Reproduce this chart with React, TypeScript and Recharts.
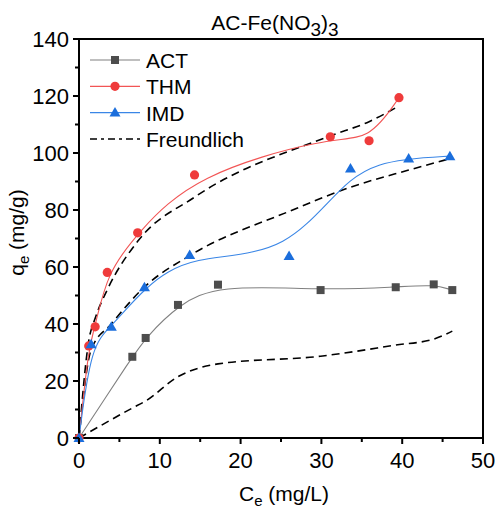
import React from 'react';
import { LineChart, Line, XAxis, YAxis, ReferenceArea, Legend, Label } from 'recharts';

// measured data (Ce in mg/L, qe in mg/g)
const actC = [0, 6.6, 8.25, 12.25, 17.2, 29.9, 39.2, 43.9, 46.2];
const actQ = [0, 28.5, 35.1, 46.7, 53.8, 51.9, 52.9, 53.9, 51.9];
const thmC = [0, 1.2, 2.0, 3.5, 7.26, 14.3, 31.1, 35.9, 39.6];
const thmQ = [0, 32.3, 39, 58.1, 72, 92.3, 105.7, 104.3, 119.4];
const imdC = [0, 1.5, 4.0, 8.1, 13.7, 26.0, 33.6, 40.8, 45.9];
const imdQ = [0, 32.9, 39, 52.9, 64.2, 63.9, 94.6, 98.1, 98.9];

// Freundlich fits at the same Ce values
const actFit = [0, 10.5, 13, 21.5, 26, 28.7, 32.6, 34.7, 37.5];
const thmFit = [0, 34, 42, 52, 69, 84.5, 106, 111, 116.5];
const imdFit = [0, 31, 40, 53, 64, 79.5, 88, 94, 98];

const xTicks = [0, 5, 10, 15, 20, 25, 30, 35, 40, 45, 50];
const yTicks = [0, 10, 20, 30, 40, 50, 60, 70, 80, 90, 100, 110, 120, 130, 140];

const zip = (c: number[], q: number[]) => c.map((v, i) => ({ c: v, q: q[i] }));
const actData = zip(actC, actQ);
const thmData = zip(thmC, thmQ);
const imdData = zip(imdC, imdQ);
const actFitData = zip(actC, actFit);
const thmFitData = zip(thmC, thmFit);
const imdFitData = zip(imdC, imdFit);

const FONT = 'Arial, "Liberation Sans", sans-serif';
const ACT_LINE = '#808080', ACT_DOT = '#4d4d4d';
const THM_LINE = '#f25555', THM_DOT = '#ef3b3b';
const IMD_LINE = '#3a86e6', IMD_DOT = '#1b6edc';

const Square = ({ cx, cy, fill }: any) => <rect x={cx - 4} y={cy - 4} width={8} height={8} fill={fill} />;
const Circle = ({ cx, cy, fill }: any) => <circle cx={cx} cy={cy} r={4.6} fill={fill} />;
const Tri = ({ cx, cy, fill }: any) => (
  <polygon points={`${cx},${cy - 5.5} ${cx + 5.5},${cy + 4} ${cx - 5.5},${cy + 4}`} fill={fill} />
);

const XTick = (props: any) => {
  const { x, y, payload } = props;
  const major = payload.value % 10 === 0;
  return (
    <g>
      <line x1={x} y1={y} x2={x} y2={y + (major ? 6 : 4)} stroke="#000" strokeWidth={2} />
      {major && (
        <text x={x} y={y + 30} textAnchor="middle" fontSize={22} fontFamily={FONT} fill="#000">
          {payload.value}
        </text>
      )}
    </g>
  );
};

const YTick = (props: any) => {
  const { x, y, payload } = props;
  const major = payload.value % 20 === 0;
  return (
    <g>
      <line x1={x} y1={y} x2={x - (major ? 6 : 4)} y2={y} stroke="#000" strokeWidth={2} />
      {major && (
        <text x={x - 10} y={y + 8} textAnchor="end" fontSize={22} fontFamily={FONT} fill="#000">
          {payload.value}
        </text>
      )}
    </g>
  );
};

const legendRows = [
  { name: 'ACT', line: ACT_LINE, dot: ACT_DOT, Marker: Square },
  { name: 'THM', line: THM_LINE, dot: THM_DOT, Marker: Circle },
  { name: 'IMD', line: IMD_LINE, dot: IMD_DOT, Marker: Tri },
];

const LegendBox = () => (
  <svg width={200} height={110}>
    {legendRows.map((r, i) => {
      const y = 15 + i * 26.3;
      return (
        <g key={r.name}>
          <line x1={5} x2={55} y1={y} y2={y} stroke={r.line} strokeWidth={1.2} />
          <r.Marker cx={30} cy={y} fill={r.dot} />
          <text x={61} y={y + 8} fontSize={21} fontFamily={FONT} fill="#000">{r.name}</text>
        </g>
      );
    })}
    <line x1={5} x2={55} y1={94} y2={94} stroke="#000" strokeWidth={1.5} strokeDasharray="7 4 3 4" />
    <text x={61} y={102} fontSize={21} fontFamily={FONT} fill="#000">Freundlich</text>
  </svg>
);

const XTitle = (props: any) => {
  const { viewBox } = props;
  const cx = viewBox.x + viewBox.width / 2 + 3;
  return (
    <g>
      <text x={cx} y={viewBox.y + 63} textAnchor="middle" fontSize={21} fontFamily={FONT} fill="#000">
        <tspan>C</tspan>
        <tspan dy={5} fontSize={15}>e</tspan>
        <tspan dy={-5}>{'  (mg/L)'}</tspan>
      </text>
      <text x={275} y={30} textAnchor="middle" fontSize={21} fontFamily={FONT} fill="#000">
        <tspan>AC-Fe(NO</tspan>
        <tspan dy={6} fontSize={19}>3</tspan>
        <tspan dy={-6}>)</tspan>
        <tspan dy={6} fontSize={19}>3</tspan>
      </text>
    </g>
  );
};

const YTitle = (props: any) => {
  const { viewBox } = props;
  const cy = viewBox.y + viewBox.height / 2 - 6;
  return (
    <text
      x={24}
      y={cy}
      transform={`rotate(-90 24 ${cy})`}
      textAnchor="middle"
      fontSize={21}
      fontFamily={FONT}
      fill="#000"
    >
      <tspan>q</tspan>
      <tspan dy={5} fontSize={15}>e</tspan>
      <tspan dy={-5}>{' (mg/g)'}</tspan>
    </text>
  );
};

export default function App() {
  return (
    <div style={{ position: 'absolute', left: 0, top: 0 }}>
      <LineChart width={497} height={510} margin={{ top: 39, right: 14, bottom: 0, left: 0 }}>
        <XAxis
          type="number"
          dataKey="c"
          domain={[0, 50]}
          ticks={xTicks}
          interval={0}
          height={72}
          tickSize={0}
          tickMargin={0}
          tickLine={false}
          tick={<XTick />}
          axisLine={{ stroke: '#000', strokeWidth: 2 }}
          allowDuplicatedCategory={false}
        >
          <Label content={<XTitle />} />
        </XAxis>
        <YAxis
          type="number"
          domain={[0, 140]}
          ticks={yTicks}
          interval={0}
          width={79}
          tickSize={0}
          tickMargin={0}
          tickLine={false}
          tick={<YTick />}
          axisLine={{ stroke: '#000', strokeWidth: 2 }}
        >
          <Label content={<YTitle />} />
        </YAxis>
        <ReferenceArea x1={0} x2={50} y1={0} y2={140} fill="none" stroke="#000" strokeWidth={2} />
        <Legend
          layout="vertical"
          align="center"
          verticalAlign="middle"
          wrapperStyle={{ left: 85, top: 45, width: 200 }}
          content={<LegendBox />}
        />
        <Line data={actFitData} dataKey="q" type="monotone" stroke="#000" strokeWidth={1.6} strokeDasharray="8 5" dot={false} isAnimationActive={false} legendType="none" />
        <Line data={thmFitData} dataKey="q" type="monotone" stroke="#000" strokeWidth={1.6} strokeDasharray="8 5" dot={false} isAnimationActive={false} legendType="none" />
        <Line data={imdFitData} dataKey="q" type="monotone" stroke="#000" strokeWidth={1.6} strokeDasharray="8 5" dot={false} isAnimationActive={false} legendType="none" />
        <Line
          data={actData}
          dataKey="q"
          name="ACT"
          type="basis"
          stroke={ACT_LINE}
          strokeWidth={1.1}
          dot={(p: any) => <Square key={`a${p.index}`} cx={p.cx} cy={p.cy} fill={ACT_DOT} />}
          isAnimationActive={false}
        />
        <Line
          data={thmData}
          dataKey="q"
          name="THM"
          type="basis"
          stroke={THM_LINE}
          strokeWidth={1.1}
          dot={(p: any) => <Circle key={`t${p.index}`} cx={p.cx} cy={p.cy} fill={THM_DOT} />}
          isAnimationActive={false}
        />
        <Line
          data={imdData}
          dataKey="q"
          name="IMD"
          type="basis"
          stroke={IMD_LINE}
          strokeWidth={1.1}
          dot={(p: any) => <Tri key={`i${p.index}`} cx={p.cx} cy={p.cy} fill={IMD_DOT} />}
          isAnimationActive={false}
        />
      </LineChart>
    </div>
  );
}
